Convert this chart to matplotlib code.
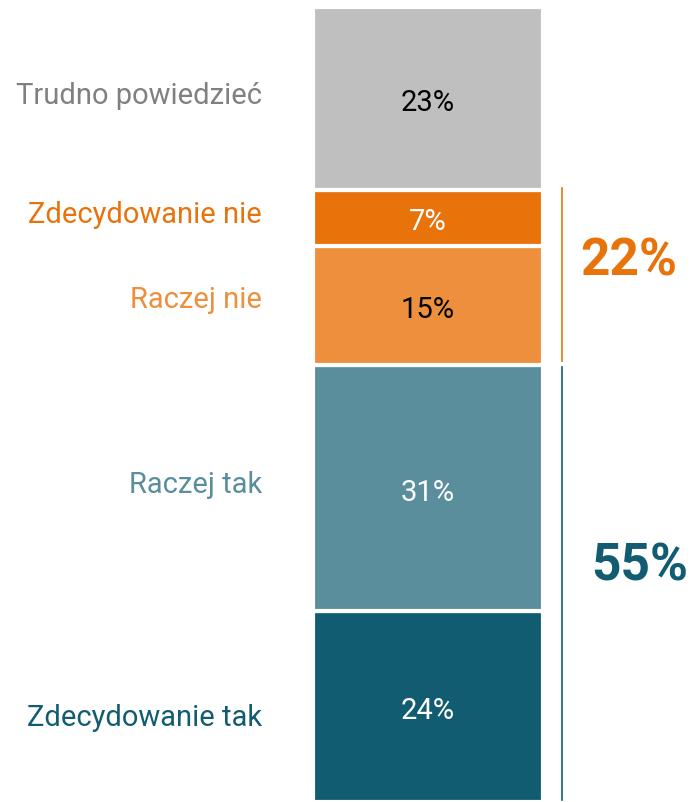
import matplotlib.pyplot as plt

# data, bottom to top
categories = ['Zdecydowanie tak', 'Raczej tak', 'Raczej nie', 'Zdecydowanie nie', 'Trudno powiedzieć']
values = [24, 31, 15, 7, 23]
bar_colors = ['#125c72', '#5a8e9c', '#ed8f3c', '#e8730a', '#bfbfbf']
label_colors = ['#125c72', '#5a8e9c', '#ed8f3c', '#e8730a', '#808080']
value_colors = ['white', 'white', 'black', 'white', 'black']
label_nudge = [-1.4, 0.4, 0.6, 0.3, 0.3]

yes_total = values[0] + values[1]
no_total = values[2] + values[3]

plt.rcParams['font.family'] = ['Roboto', 'DejaVu Sans']

fig = plt.figure(figsize=(6.9, 8.02), dpi=100)
ax = fig.add_axes([0, 0, 1, 1])
ax.set_xlim(0, 690)
ax.set_ylim(0, 100 * 802 / 795)
ax.axis('off')

bottom = 0
for cat, v, bc, lc, vc, nd in zip(categories, values, bar_colors, label_colors, value_colors, label_nudge):
    ax.bar(428, v, width=230, bottom=bottom, color=bc, edgecolor='white', linewidth=3)
    mid = bottom + v / 2
    ax.text(428, mid - 0.6, f'{v}%', ha='center', va='center', fontsize=21, color=vc)
    ax.text(262, mid + nd, cat, ha='right', va='center', fontsize=21, color=lc)
    bottom += v

# bracket lines and group totals
ax.plot([562, 562], [yes_total + 0.5, yes_total + no_total + 0.2], color='#e8730a', lw=1.2)
ax.plot([562, 562], [0.3, yes_total - 0.3], color='#125c72', lw=1.2)
ax.text(629, yes_total + no_total / 2 + 2, f'{no_total}%', ha='center', va='center',
        fontsize=37, fontweight='bold', color='#e8730a')
ax.text(640, yes_total / 2 + 2.1, f'{yes_total}%', ha='center', va='center',
        fontsize=37, fontweight='bold', color='#125c72')

fig.savefig('out.png', dpi=100)
